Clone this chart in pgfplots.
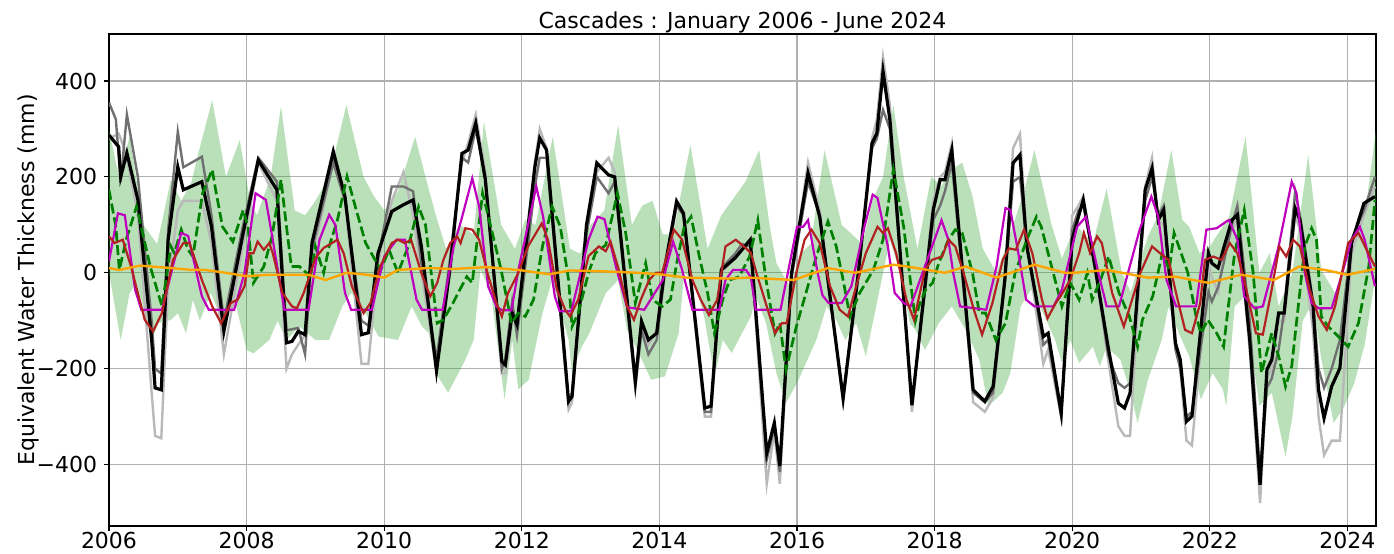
\documentclass[border=0pt]{standalone}
\usepackage{pgfplots}
\pgfplotsset{compat=1.18}
\usepackage{fontspec}
\setmainfont{DejaVu Sans}
\definecolor{lgray}{RGB}{185,185,185}
\definecolor{dgray}{RGB}{112,112,112}
\definecolor{mpmag}{RGB}{191,0,191}
\definecolor{fbrick}{RGB}{178,34,34}
\definecolor{mporange}{RGB}{255,165,0}
\definecolor{mpgreen}{RGB}{0,128,0}
\definecolor{bandgreen}{RGB}{44,160,44}
\definecolor{gridc}{RGB}{176,176,176}
\begin{document}
\begin{tikzpicture}
\begin{axis}[
  at={(0,0)}, anchor=south west,
  scale only axis, width=633.5pt, height=246pt,
  xmin=2006, xmax=2024.415, ymin=-528, ymax=498,
  xtick={2006,2008,2010,2012,2014,2016,2018,2020,2022,2024},
  xticklabels={2006,2008,2010,2012,2014,2016,2018,2020,2022,2024},
  ytick={-400,-200,0,200,400},
  yticklabels={−400,−200,0,200,400},
  tick align=outside, tick pos=left,
  major tick length=2.4pt,
  every tick/.style={black, line width=0.55pt},
  axis line style={line width=0.55pt},
  grid=major, grid style={gridc, line width=0.55pt},
  tick label style={font=\fontsize{11}{13}\selectfont},
  xticklabel style={inner ysep=1pt, yshift=0.3pt},
  title={Cascades : January 2006 - June 2024},
  title style={font=\fontsize{11}{13}\selectfont, at={(axis description cs:0.5,1)}, anchor=base, yshift=-3pt},
  ylabel={Equivalent Water Thickness (mm)},
  ylabel style={font=\fontsize{11}{13}\selectfont, at={(axis description cs:-0.0639,0.5)}, anchor=center},
]
% uncertainty band: upper edge forward, lower edge backward
\addplot[fill=bandgreen, fill opacity=0.33, draw=none] coordinates {
(2006.00,300) (2006.10,230) (2006.15,200) (2006.30,284) (2006.50,100) (2006.70,60) (2006.90,194) (2007.05,150) (2007.20,190) (2007.30,250) (2007.50,360) (2007.70,200) (2007.90,277) (2008.05,150) (2008.15,120) (2008.35,200) (2008.50,347) (2008.70,130) (2008.85,120) (2009.00,150) (2009.20,200) (2009.45,350) (2009.70,200) (2009.85,160) (2010.00,130) (2010.20,170) (2010.45,284) (2010.60,200) (2010.75,120) (2010.90,50) (2011.10,100) (2011.30,80) (2011.45,315) (2011.70,100) (2011.90,50) (2012.05,110) (2012.20,100) (2012.45,284) (2012.70,50) (2012.85,40) (2013.00,100) (2013.20,130) (2013.40,308) (2013.60,100) (2013.75,140) (2013.90,150) (2014.05,80) (2014.20,80) (2014.45,267) (2014.70,50) (2014.90,120) (2015.05,150) (2015.25,190) (2015.45,256) (2015.60,100) (2015.70,20) (2015.90,-30) (2016.05,40) (2016.20,60) (2016.40,256) (2016.65,100) (2016.80,80) (2016.95,60) (2017.10,152) (2017.25,200) (2017.40,350) (2017.55,200) (2017.75,50) (2017.95,200) (2018.10,180) (2018.20,210) (2018.40,230) (2018.55,160) (2018.70,50) (2018.90,0) (2019.05,60) (2019.30,170) (2019.45,256) (2019.70,100) (2019.85,30) (2020.05,100) (2020.30,60) (2020.50,176) (2020.72,0) (2020.85,-40) (2021.10,76) (2021.25,120) (2021.44,256) (2021.60,110) (2021.70,96) (2021.85,41) (2022.00,55) (2022.28,117) (2022.52,284) (2022.72,0) (2022.87,41) (2023.00,-70) (2023.20,0) (2023.43,246) (2023.62,6) (2023.82,-42) (2024.05,27) (2024.25,117) (2024.415,298)
(2024.415,0) (2024.25,-150) (2024.10,-230) (2023.95,-280) (2023.80,-313) (2023.62,-180) (2023.50,-60) (2023.35,-100) (2023.20,-300) (2023.10,-383) (2022.90,-250) (2022.72,-278) (2022.50,-50) (2022.36,-70) (2022.24,-278) (2022.19,-243) (2022.04,-209) (2021.87,-264) (2021.70,-174) (2021.55,-126) (2021.40,-70) (2021.30,-140) (2021.10,-223) (2020.95,-313) (2020.85,-250) (2020.70,-181) (2020.50,-154) (2020.40,-195) (2020.30,-154) (2020.10,-188) (2019.97,-140) (2019.85,-188) (2019.75,-140) (2019.60,-91) (2019.40,-35) (2019.25,-70) (2019.10,-209) (2018.99,-250) (2018.78,-278) (2018.65,-181) (2018.45,-119) (2018.25,-70) (2018.06,-105) (2017.86,-161) (2017.72,-119) (2017.64,-105) (2017.50,0) (2017.35,69) (2017.15,-70) (2017.00,-174) (2016.86,-105) (2016.70,-140) (2016.57,-98) (2016.43,-70) (2016.28,-140) (2016.00,-230) (2015.84,-271) (2015.70,-209) (2015.55,-105) (2015.40,-49) (2015.33,-91) (2015.20,-126) (2015.05,-167) (2014.92,-140) (2014.80,-216) (2014.65,-91) (2014.50,-15) (2014.36,0) (2014.28,-126) (2014.08,-216) (2013.88,-223) (2013.68,-161) (2013.53,-119) (2013.40,-15) (2013.22,-42) (2012.97,-130) (2012.87,-154) (2012.73,-209) (2012.68,-140) (2012.55,-70) (2012.44,-15) (2012.30,-84) (2012.10,-223) (2011.95,-243) (2011.86,-140) (2011.75,-264) (2011.55,-40) (2011.40,6) (2011.30,-140) (2011.18,-181) (2010.93,-250) (2010.75,-209) (2010.65,-126) (2010.55,-112) (2010.40,-70) (2010.20,-140) (2009.92,-133) (2009.67,-70) (2009.52,-42) (2009.39,-70) (2009.20,-140) (2009.00,-140) (2008.77,-112) (2008.58,-140) (2008.45,-100) (2008.33,-140) (2008.10,-168) (2008.00,-161) (2007.85,-70) (2007.62,-91) (2007.48,-42) (2007.32,-100) (2007.22,-56) (2007.12,-126) (2007.00,-84) (2006.90,-98) (2006.72,-105) (2006.62,-140) (2006.52,-84) (2006.40,-20) (2006.30,-42) (2006.17,-140) (2006.00,0)};
% light gray
\addplot[lgray, line width=1.2pt] coordinates {
(2006.00,280) (2006.14,290) (2006.17,280) (2006.26,240) (2006.42,120) (2006.62,-250) (2006.67,-340) (2006.76,-345) (2006.86,-20) (2007.00,130) (2007.08,150) (2007.35,150) (2007.49,60) (2007.67,-170) (2007.95,60) (2008.17,230) (2008.44,150) (2008.58,-200) (2008.66,-170) (2008.75,-150) (2008.85,-130) (2008.95,30) (2009.26,230) (2009.43,150) (2009.67,-190) (2009.77,-190) (2009.91,20) (2010.11,150) (2010.28,210) (2010.42,120) (2010.54,0) (2010.76,-200) (2010.96,40) (2011.13,230) (2011.22,270) (2011.33,330) (2011.47,210) (2011.71,-210) (2011.76,-210) (2011.86,-100) (2011.93,-100) (2012.19,230) (2012.26,300) (2012.36,260) (2012.68,-285) (2012.73,-270) (2012.94,90) (2013.09,210) (2013.26,240) (2013.35,210) (2013.65,-230) (2013.74,-110) (2013.84,-150) (2013.96,-120) (2014.08,10) (2014.25,150) (2014.35,120) (2014.66,-300) (2014.75,-300) (2014.90,0) (2015.10,30) (2015.20,50) (2015.32,70) (2015.56,-440) (2015.67,-330) (2015.75,-440) (2015.92,-10) (2016.16,230) (2016.33,130) (2016.67,-270) (2016.89,-10) (2017.09,280) (2017.16,320) (2017.25,450) (2017.35,350) (2017.67,-290) (2017.98,150) (2018.08,200) (2018.15,210) (2018.25,270) (2018.56,-270) (2018.73,-290) (2018.85,-260) (2019.02,-10) (2019.14,260) (2019.24,290) (2019.34,60) (2019.58,-190) (2019.65,-160) (2019.84,-300) (2020.00,120) (2020.09,140) (2020.16,160) (2020.33,10) (2020.52,-180) (2020.67,-320) (2020.76,-340) (2020.84,-340) (2021.06,180) (2021.16,240) (2021.25,110) (2021.33,100) (2021.50,-140) (2021.57,-200) (2021.66,-350) (2021.74,-360) (2021.98,20) (2022.03,-10) (2022.12,-40) (2022.20,30) (2022.32,90) (2022.40,110) (2022.58,-160) (2022.73,-480) (2022.83,-220) (2022.90,-200) (2023.00,-100) (2023.08,-100) (2023.24,120) (2023.31,90) (2023.50,-120) (2023.58,-300) (2023.66,-380) (2023.77,-350) (2023.89,-350) (2024.06,40) (2024.24,120) (2024.40,180)};
% dark gray
\addplot[dgray, line width=1.2pt] coordinates {
(2006.00,355) (2006.10,320) (2006.17,190) (2006.26,330) (2006.42,200) (2006.62,-100) (2006.67,-200) (2006.76,-210) (2006.86,90) (2007.00,294) (2007.08,220) (2007.35,242) (2007.49,120) (2007.67,-100) (2007.95,100) (2008.17,240) (2008.44,190) (2008.58,-120) (2008.75,-115) (2008.85,-170) (2008.95,50) (2009.26,230) (2009.43,150) (2009.67,-100) (2009.77,-110) (2009.91,30) (2010.11,180) (2010.28,180) (2010.42,170) (2010.54,20) (2010.76,-180) (2010.96,30) (2011.13,240) (2011.22,230) (2011.33,300) (2011.47,200) (2011.71,-200) (2011.76,-180) (2011.86,-60) (2011.93,-130) (2012.19,180) (2012.26,240) (2012.36,240) (2012.68,-270) (2012.73,-250) (2012.94,80) (2013.09,200) (2013.26,166) (2013.35,190) (2013.65,-240) (2013.74,-120) (2013.84,-170) (2013.96,-140) (2014.08,0) (2014.25,140) (2014.35,120) (2014.66,-290) (2014.75,-290) (2014.90,10) (2015.10,40) (2015.20,60) (2015.32,55) (2015.56,-390) (2015.67,-320) (2015.75,-415) (2015.92,-10) (2016.16,190) (2016.33,120) (2016.67,-265) (2016.89,0) (2017.09,260) (2017.16,280) (2017.25,340) (2017.35,300) (2017.67,-270) (2017.98,110) (2018.08,140) (2018.15,170) (2018.25,230) (2018.56,-250) (2018.73,-270) (2018.85,-250) (2019.02,-20) (2019.14,190) (2019.24,200) (2019.34,60) (2019.58,-150) (2019.65,-140) (2019.84,-300) (2020.00,90) (2020.09,130) (2020.16,140) (2020.33,20) (2020.52,-170) (2020.67,-230) (2020.76,-240) (2020.84,-230) (2021.06,150) (2021.16,200) (2021.25,120) (2021.33,140) (2021.50,-160) (2021.57,-200) (2021.66,-300) (2021.74,-290) (2021.98,-40) (2022.03,-60) (2022.12,-30) (2022.20,20) (2022.32,100) (2022.40,140) (2022.58,-100) (2022.73,-420) (2022.83,-240) (2022.90,-220) (2023.00,-160) (2023.08,-80) (2023.24,170) (2023.31,120) (2023.50,-60) (2023.58,-200) (2023.66,-240) (2023.77,-200) (2023.89,-140) (2024.06,70) (2024.24,130) (2024.40,200)};
% black
\addplot[black, line width=1.6pt] coordinates {
(2006.00,287) (2006.14,263) (2006.17,200) (2006.26,250) (2006.42,152) (2006.62,-140) (2006.67,-240) (2006.76,-244) (2006.86,69) (2007.00,221) (2007.08,173) (2007.35,190) (2007.49,96) (2007.67,-122) (2007.95,83) (2008.17,235) (2008.44,173) (2008.58,-146) (2008.66,-143) (2008.75,-122) (2008.85,-129) (2008.95,62) (2009.26,253) (2009.43,159) (2009.67,-129) (2009.77,-125) (2009.91,41) (2010.11,128) (2010.28,142) (2010.42,152) (2010.54,55) (2010.76,-205) (2010.96,13) (2011.13,249) (2011.22,256) (2011.33,312) (2011.47,194) (2011.71,-185) (2011.76,-192) (2011.86,-84) (2011.93,-108) (2012.19,221) (2012.26,281) (2012.36,256) (2012.68,-268) (2012.73,-258) (2012.94,100) (2013.09,229) (2013.26,204) (2013.35,200) (2013.65,-226) (2013.74,-101) (2013.84,-140) (2013.96,-126) (2014.08,13) (2014.25,149) (2014.35,124) (2014.66,-282) (2014.75,-278) (2014.90,6) (2015.10,31) (2015.20,48) (2015.32,69) (2015.56,-376) (2015.67,-313) (2015.75,-403) (2015.92,-1) (2016.16,208) (2016.33,117) (2016.67,-261) (2016.89,-1) (2017.09,270) (2017.16,291) (2017.25,420) (2017.35,319) (2017.67,-276) (2017.98,131) (2018.08,194) (2018.15,194) (2018.25,256) (2018.56,-244) (2018.73,-268) (2018.85,-237) (2019.02,-15) (2019.14,229) (2019.24,246) (2019.34,55) (2019.58,-133) (2019.65,-126) (2019.84,-292) (2020.00,70) (2020.09,117) (2020.16,152) (2020.33,13) (2020.52,-153) (2020.67,-272) (2020.76,-282) (2020.84,-251) (2021.06,173) (2021.16,218) (2021.25,110) (2021.33,131) (2021.50,-147) (2021.57,-181) (2021.66,-310) (2021.74,-299) (2021.98,41) (2022.03,20) (2022.12,10) (2022.20,51) (2022.32,110) (2022.40,121) (2022.58,-140) (2022.73,-442) (2022.83,-202) (2022.90,-181) (2023.00,-84) (2023.08,-84) (2023.24,135) (2023.31,110) (2023.50,-70) (2023.58,-244) (2023.66,-303) (2023.77,-237) (2023.89,-199) (2024.06,62) (2024.24,145) (2024.40,159)};
% green dashed
\addplot[mpgreen, line width=1.35pt, dash pattern=on 5pt off 2pt] coordinates {
(2006.00,173) (2006.10,96) (2006.15,6) (2006.25,69) (2006.40,138) (2006.60,13) (2006.77,-70) (2006.90,55) (2006.95,41) (2007.05,90) (2007.15,48) (2007.22,34) (2007.36,166) (2007.50,215) (2007.55,173) (2007.65,96) (2007.80,65) (2007.95,131) (2008.02,96) (2008.10,-21) (2008.25,13) (2008.37,76) (2008.50,194) (2008.58,96) (2008.65,13) (2008.77,13) (2008.87,0) (2008.92,-15) (2009.00,55) (2009.12,0) (2009.20,55) (2009.32,110) (2009.46,201) (2009.58,138) (2009.73,62) (2009.95,6) (2010.07,48) (2010.20,0) (2010.35,55) (2010.50,138) (2010.60,100) (2010.77,-105) (2010.86,-98) (2011.00,-63) (2011.10,-35) (2011.20,-8) (2011.28,-21) (2011.43,166) (2011.55,96) (2011.70,6) (2011.85,-105) (2011.95,-84) (2012.05,-91) (2012.17,-56) (2012.30,55) (2012.44,138) (2012.56,96) (2012.68,-15) (2012.73,-112) (2012.82,-84) (2012.97,0) (2013.07,41) (2013.22,58) (2013.39,166) (2013.51,83) (2013.65,-63) (2013.80,20) (2013.90,-56) (2014.04,-70) (2014.16,-56) (2014.26,27) (2014.36,96) (2014.46,117) (2014.58,34) (2014.70,-42) (2014.80,-126) (2014.92,-56) (2015.02,-15) (2015.16,-8) (2015.31,34) (2015.43,110) (2015.55,-15) (2015.68,-126) (2015.75,-105) (2015.84,-202) (2015.99,-112) (2016.13,-42) (2016.28,34) (2016.45,107) (2016.57,55) (2016.67,-15) (2016.77,-91) (2016.91,-42) (2017.11,6) (2017.25,69) (2017.40,215) (2017.55,96) (2017.72,-100) (2017.77,-70) (2017.87,-35) (2017.97,-21) (2018.06,20) (2018.20,69) (2018.30,90) (2018.40,83) (2018.55,0) (2018.65,-84) (2018.74,-84) (2018.89,-140) (2019.03,-105) (2019.17,0) (2019.34,69) (2019.48,117) (2019.55,96) (2019.70,13) (2019.85,-70) (2019.97,-21) (2020.10,-56) (2020.22,0) (2020.29,-56) (2020.41,-15) (2020.53,34) (2020.68,-42) (2020.83,-91) (2020.95,-154) (2021.02,-98) (2021.17,-49) (2021.31,41) (2021.41,6) (2021.48,83) (2021.60,34) (2021.68,0) (2021.80,-91) (2021.87,-126) (2021.97,-98) (2022.10,-126) (2022.20,-154) (2022.36,41) (2022.50,131) (2022.63,0) (2022.75,-209) (2022.90,-126) (2023.00,-174) (2023.10,-237) (2023.19,-195) (2023.38,55) (2023.48,93) (2023.55,69) (2023.62,-91) (2023.72,-112) (2023.87,-133) (2024.01,-154) (2024.16,-105) (2024.31,13) (2024.40,152)};
% magenta
\addplot[mpmag, line width=1.1pt] coordinates {
(2006.00,24) (2006.13,124) (2006.23,120) (2006.38,-35) (2006.47,-77) (2006.77,-77) (2007.05,83) (2007.15,77) (2007.35,-49) (2007.45,-77) (2007.82,-77) (2007.97,0) (2008.13,166) (2008.28,152) (2008.38,69) (2008.55,-77) (2008.90,-77) (2009.06,69) (2009.20,121) (2009.29,100) (2009.43,-42) (2009.52,-77) (2009.82,-77) (2010.00,34) (2010.18,69) (2010.30,69) (2010.47,-56) (2010.55,-77) (2010.85,-77) (2011.01,55) (2011.12,110) (2011.28,197) (2011.38,138) (2011.51,-28) (2011.63,-70) (2011.71,-78) (2011.85,-78) (2011.95,6) (2012.21,180) (2012.31,117) (2012.48,-49) (2012.55,-80) (2012.72,-80) (2012.97,69) (2013.10,117) (2013.20,112) (2013.38,6) (2013.53,-72) (2013.78,-77) (2014.05,-15) (2014.20,65) (2014.33,6) (2014.48,-77) (2014.87,-77) (2014.96,-15) (2015.07,6) (2015.26,6) (2015.33,-10) (2015.40,-77) (2015.76,-77) (2016.00,96) (2016.09,96) (2016.16,110) (2016.30,0) (2016.37,-47) (2016.46,-63) (2016.65,-63) (2016.79,-28) (2016.98,96) (2017.10,163) (2017.17,156) (2017.32,55) (2017.42,-42) (2017.55,-63) (2017.65,-70) (2017.91,34) (2018.10,110) (2018.20,69) (2018.27,0) (2018.37,-70) (2018.75,-77) (2018.90,13) (2019.03,135) (2019.10,131) (2019.20,55) (2019.33,-56) (2019.45,-70) (2019.73,-70) (2019.85,-35) (2020.07,96) (2020.20,117) (2020.38,0) (2020.50,-70) (2020.68,-70) (2020.98,90) (2021.15,159) (2021.25,117) (2021.37,-15) (2021.51,-70) (2021.80,-70) (2021.95,90) (2022.10,93) (2022.24,107) (2022.28,110) (2022.40,69) (2022.50,-49) (2022.65,-74) (2022.77,-70) (2023.00,55) (2023.19,190) (2023.26,166) (2023.38,0) (2023.48,-63) (2023.58,-74) (2023.77,-74) (2023.91,-8) (2024.06,69) (2024.18,96) (2024.25,69) (2024.40,-28)};
% dark red
\addplot[fbrick, line width=1.1pt] coordinates {
(2006.00,76) (2006.08,62) (2006.20,69) (2006.32,13) (2006.52,-98) (2006.64,-122) (2006.77,-84) (2006.93,27) (2007.08,62) (2007.17,62) (2007.35,-15) (2007.50,-70) (2007.63,-105) (2007.77,-63) (2007.87,-56) (2007.97,-28) (2008.04,41) (2008.10,41) (2008.16,65) (2008.25,48) (2008.33,62) (2008.38,41) (2008.52,-42) (2008.66,-70) (2008.73,-74) (2008.83,-42) (2008.93,0) (2009.00,31) (2009.12,52) (2009.24,62) (2009.32,69) (2009.41,41) (2009.53,-28) (2009.70,-84) (2009.80,-63) (2009.94,13) (2010.11,62) (2010.20,69) (2010.30,62) (2010.39,69) (2010.54,0) (2010.63,-35) (2010.67,-49) (2010.77,-21) (2010.86,27) (2010.96,62) (2011.06,76) (2011.11,62) (2011.18,93) (2011.28,90) (2011.38,69) (2011.50,0) (2011.63,-63) (2011.71,-91) (2011.80,-42) (2011.95,0) (2012.09,55) (2012.29,103) (2012.38,69) (2012.51,-35) (2012.63,-77) (2012.70,-91) (2012.82,-56) (2012.97,35) (2013.12,55) (2013.22,45) (2013.29,65) (2013.41,6) (2013.53,-70) (2013.63,-98) (2013.73,-56) (2013.85,-15) (2013.95,0) (2014.04,0) (2014.21,90) (2014.33,69) (2014.48,-15) (2014.60,-56) (2014.72,-88) (2014.84,-56) (2014.96,55) (2015.11,69) (2015.26,51) (2015.33,41) (2015.41,0) (2015.56,-70) (2015.68,-126) (2015.78,-105) (2015.85,-105) (2015.99,0) (2016.11,69) (2016.21,90) (2016.33,62) (2016.48,-28) (2016.62,-77) (2016.74,-91) (2016.86,-28) (2017.00,41) (2017.17,96) (2017.25,83) (2017.32,93) (2017.44,41) (2017.59,-56) (2017.70,-98) (2017.86,6) (2017.96,27) (2018.11,34) (2018.20,69) (2018.30,55) (2018.42,0) (2018.57,-77) (2018.69,-129) (2018.84,-63) (2018.99,27) (2019.08,51) (2019.18,48) (2019.30,90) (2019.42,41) (2019.56,-56) (2019.64,-95) (2019.76,-63) (2019.83,-49) (2019.97,-15) (2020.10,41) (2020.17,83) (2020.26,41) (2020.36,76) (2020.43,62) (2020.58,-42) (2020.75,-112) (2020.87,-56) (2020.99,0) (2021.16,55) (2021.30,38) (2021.40,27) (2021.52,-49) (2021.64,-119) (2021.74,-126) (2021.86,-63) (2021.93,27) (2022.05,34) (2022.17,27) (2022.29,62) (2022.40,41) (2022.50,-15) (2022.67,-126) (2022.77,-129) (2022.89,-42) (2023.01,55) (2023.11,34) (2023.21,69) (2023.31,55) (2023.45,-35) (2023.58,-91) (2023.70,-119) (2023.82,-70) (2024.01,62) (2024.16,83) (2024.40,13)};
% orange
\addplot[mporange, line width=1.2pt] coordinates {
(2006.00,10) (2006.15,6) (2006.45,15) (2006.90,10) (2007.20,6) (2007.40,6) (2007.70,0) (2008.00,-7) (2008.33,-4) (2008.90,-4) (2009.15,-15) (2009.45,0) (2009.75,-4) (2010.00,-10) (2010.20,6) (2010.65,10) (2011.00,8) (2011.50,12) (2012.00,5) (2012.40,-3) (2012.70,5) (2013.20,3) (2013.70,0) (2014.00,-3) (2014.40,-10) (2015.00,-12) (2015.30,-10) (2015.95,-15) (2016.45,10) (2016.85,0) (2017.40,17) (2017.60,13) (2018.15,0) (2018.45,13) (2018.90,-10) (2019.45,17) (2019.90,0) (2020.03,0) (2020.50,6) (2021.10,-10) (2021.50,-8) (2021.98,-21) (2022.45,-4) (2022.93,-15) (2023.30,13) (2023.67,6) (2024.00,-4) (2024.40,8)};
\end{axis}
\pgfresetboundingbox
\path (-54.5pt,-13.5pt) rectangle (642.5pt,263pt);
\end{tikzpicture}
\end{document}
